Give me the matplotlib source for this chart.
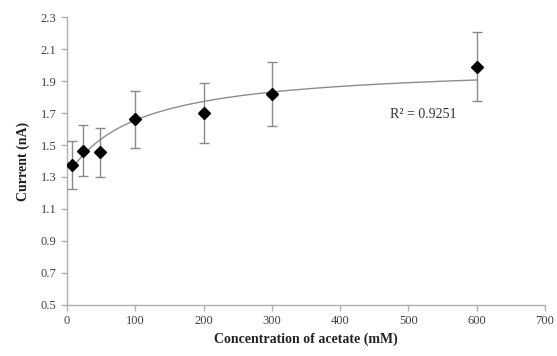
import numpy as np
import matplotlib
matplotlib.use("Agg")
import matplotlib.pyplot as plt

# data
acetate_mM = [8, 24, 48, 100, 200, 300, 600]
current_nA = [1.375, 1.464, 1.454, 1.66, 1.70, 1.82, 1.99]
current_err = [0.15, 0.16, 0.155, 0.18, 0.185, 0.20, 0.215]
r_squared_label = "R² = 0.9251"

x_ticks = [0, 100, 200, 300, 400, 500, 600, 700]
y_ticks = [0.5, 0.7, 0.9, 1.1, 1.3, 1.5, 1.7, 1.9, 2.1, 2.3]

# saturating trendline y = a + b*x/(K+x), parameters
trend_a = 1.303
trend_b = 0.704
trend_K = 100.0

x_fit = np.linspace(min(acetate_mM), max(acetate_mM), 300)
y_fit = trend_a + trend_b * x_fit / (trend_K + x_fit)

plt.rcParams['font.family'] = ['Liberation Serif', 'DejaVu Serif']

fig = plt.figure(figsize=(5.57, 3.56), dpi=100)
ax = fig.add_axes([0.1203, 0.1433, 0.8582, 0.8089])

grey = '#b0b0b0'
ax.plot(x_fit, y_fit, color='#8c8c8c', linewidth=1.0, zorder=2)
ax.errorbar(acetate_mM, current_nA, yerr=current_err, fmt='D', color='black',
            markersize=6, ecolor='#8a8a8a', elinewidth=1.0, capsize=3.5,
            capthick=1.0, zorder=3)

ax.text(521, 1.69, r_squared_label, ha='center', va='center', fontsize=10,
        color='#333333')

ax.set_xlim(0, 700)
ax.set_ylim(0.5, 2.3)
ax.set_xticks(x_ticks)
ax.set_yticks(y_ticks)
ax.set_yticklabels([f"{v:.1f}" for v in y_ticks])

for side in ['top', 'right']:
    ax.spines[side].set_visible(False)
for side in ['left', 'bottom']:
    ax.spines[side].set_color(grey)
    ax.spines[side].set_linewidth(1.0)
ax.tick_params(axis='both', colors=grey, labelcolor='#404040', labelsize=9,
               length=4, width=1.0)

ax.set_xlabel('Concentration of acetate (mM)', fontsize=10, fontweight='bold',
              color='#222222', labelpad=4)
ax.set_ylabel('Current (nA)', fontsize=10, fontweight='bold',
              color='#222222', labelpad=8)

fig.savefig('out.png', dpi=100)
